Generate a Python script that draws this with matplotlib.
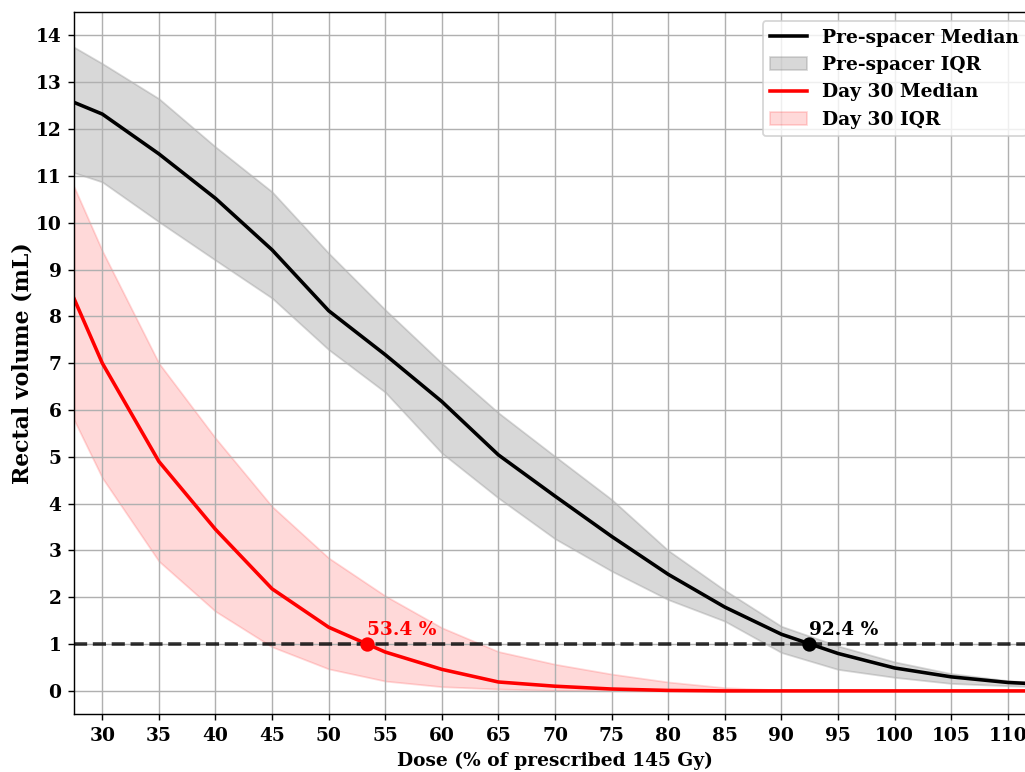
import matplotlib
matplotlib.use("Agg")
import matplotlib.pyplot as plt

plt.rcParams["font.family"] = "serif"
plt.rcParams["font.weight"] = "bold"
plt.rcParams["axes.labelweight"] = "bold"
plt.rcParams["font.size"] = 10.5

dose = [27.5, 30, 35, 40, 45, 50, 55, 60, 65, 70, 75, 80, 85, 90, 95, 100, 105, 110, 112.5]

pre_median = [12.57, 12.32, 11.47, 10.52, 9.42, 8.12, 7.18, 6.18, 5.04, 4.16,
              3.30, 2.49, 1.79, 1.21, 0.80, 0.49, 0.30, 0.18, 0.15]
pre_q3 = [13.75, 13.40, 12.65, 11.62, 10.66, 9.35, 8.14, 7.00, 5.94, 5.01,
          4.09, 3.00, 2.15, 1.38, 0.96, 0.62, 0.37, 0.22, 0.18]
pre_q1 = [11.07, 10.87, 10.02, 9.20, 8.39, 7.29, 6.38, 5.08, 4.12, 3.25,
          2.56, 1.95, 1.49, 0.82, 0.46, 0.29, 0.16, 0.11, 0.09]

d30_median = [8.38, 7.00, 4.90, 3.45, 2.18, 1.36, 0.83, 0.46, 0.19, 0.10,
              0.04, 0.01, 0.0, 0.0, 0.0, 0.0, 0.0, 0.0, 0.0]
d30_q3 = [10.77, 9.40, 7.00, 5.40, 3.94, 2.84, 2.03, 1.35, 0.84, 0.57,
          0.36, 0.19, 0.07, 0.02, 0.0, 0.0, 0.0, 0.0, 0.0]
d30_q1 = [5.79, 4.55, 2.77, 1.70, 0.94, 0.47, 0.21, 0.09, 0.04, 0.01,
          0.0, 0.0, 0.0, 0.0, 0.0, 0.0, 0.0, 0.0, 0.0]

threshold = 1.0
pre_cross = 92.4
d30_cross = 53.4

fig = plt.figure(figsize=(1025 / 128, 772 / 128), dpi=128)
ax = fig.add_axes([74 / 1025, 1 - 714.3 / 772, 962 / 1025, 702.3 / 772])

ax.plot(dose, pre_median, color="black", lw=2, label="Pre-spacer Median")
ax.fill_between(dose, pre_q1, pre_q3, color="gray", alpha=0.3, label="Pre-spacer IQR")
ax.plot(dose, d30_median, color="red", lw=2, label="Day 30 Median")
ax.fill_between(dose, d30_q1, d30_q3, color="red", alpha=0.15, label="Day 30 IQR")

ax.axhline(threshold, color="black", ls="--", lw=2, alpha=0.8)

ax.scatter([pre_cross], [threshold], s=50, color="black", zorder=5)
ax.scatter([d30_cross], [threshold], s=50, color="red", zorder=5)
ax.annotate(f"{pre_cross:.1f} %", (pre_cross, threshold), xytext=(0, 5),
            textcoords="offset points", color="black", fontweight="bold")
ax.annotate(f"{d30_cross:.1f} %", (d30_cross, threshold), xytext=(0, 5),
            textcoords="offset points", color="red", fontweight="bold")

ax.set_xlim(27.5, 112.5)
ax.set_ylim(-0.5, 14.5)
ax.set_xticks(range(30, 111, 5))
ax.set_yticks(range(0, 15))
ax.grid(True)
ax.set_xlabel("Dose (% of prescribed 145 Gy)")
ax.set_ylabel("Rectal volume (mL)", fontsize=12.4, labelpad=1.5)
ax.legend(loc="upper right")

fig.savefig("out.png", dpi=128)
